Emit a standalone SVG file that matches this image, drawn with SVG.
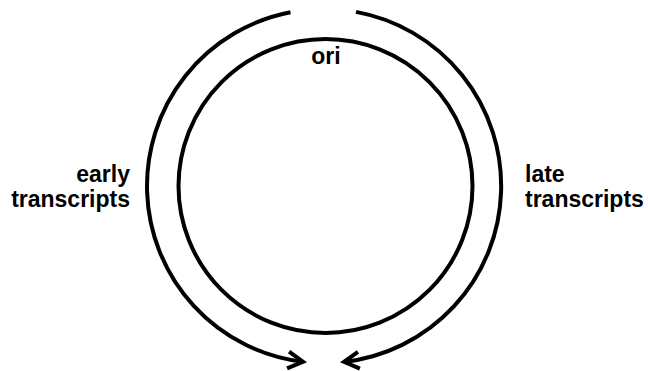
<svg xmlns="http://www.w3.org/2000/svg" width="648" height="371" viewBox="0 0 648 371">
<style>
.ln{fill:none;stroke:#000;stroke-width:4}
.t{font-family:"Liberation Sans",Arial,sans-serif;font-weight:bold;font-size:23px;fill:#000}
</style>
<defs>
<marker id="ah" markerUnits="userSpaceOnUse" markerWidth="30" markerHeight="30" viewBox="-20 -15 30 30" refX="0" refY="0" orient="auto">
<path d="M -15 -8.5 L 0 0 L -15 8.5" fill="none" stroke="#000" stroke-width="4"/>
</marker>
</defs>
<rect width="648" height="371" fill="#fff"/>
<g id="plasmid">
<circle class="ln" cx="325.5" cy="186" r="147"/>
<text class="t" x="326" y="64" text-anchor="middle">ori</text>
</g>
<g id="connectors">
<path class="ln" d="M 290.5 12.2 A 177 177 0 0 0 303 361.75" marker-end="url(#ah)"/>
<path class="ln" d="M 356 11.9 A 177 177 0 0 1 344 361.9" marker-end="url(#ah)"/>
</g>
<g id="early">
<text class="t" x="130" y="182" text-anchor="end">early</text>
<text class="t" x="130" y="207" text-anchor="end">transcripts</text>
</g>
<g id="late">
<text class="t" x="525" y="182">late</text>
<text class="t" x="525" y="207">transcripts</text>
</g>
</svg>
